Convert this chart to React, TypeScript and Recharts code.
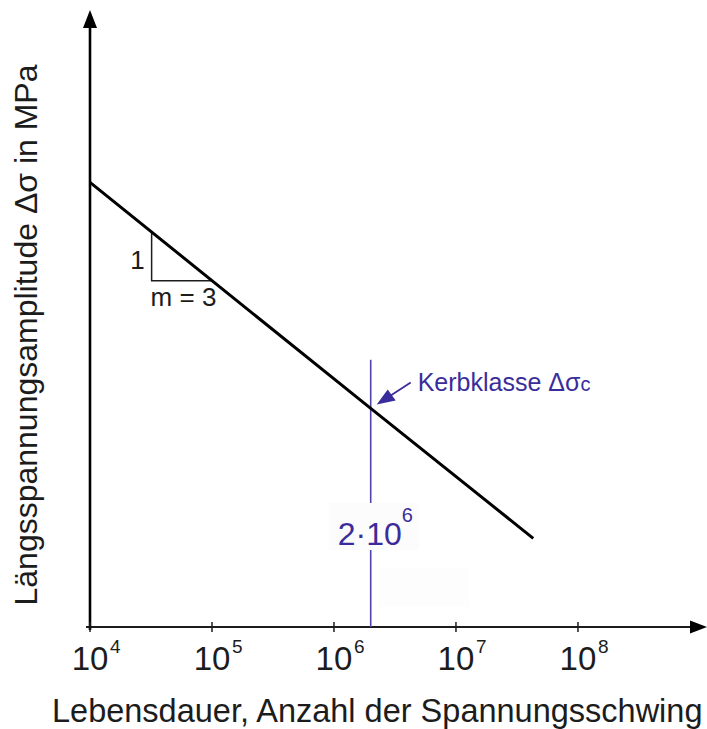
import React from 'react';
import { ComposedChart, Line, XAxis, YAxis, ReferenceLine, ReferenceDot } from 'recharts';

// S-N line for detail category 80 MPa, slope m = 3
const cycles = [1e4, 2e6, 4.3e7];
const stressRange = [468, 80, 29];

// slope triangle (1 : m) drawn under the line
const slopeCycles = [3.2e4, 3.2e4, 1e5];
const slopeStress = [317, 217, 217];

const decadeTicks = [1e4, 1e5, 1e6, 1e7, 1e8];
const decadeExponents = ['4', '5', '6', '7', '8'];

const kerbCycles = 2e6;
const kerbStress = 80;
const kerbLineTop = 117;

const xDomain = [1e4, 1.1e9];
const yDomain = [14.5, 1800];

const BLUE = '#3a2d9b';
const INK = '#1c1c1c';

const lineData = cycles.map((n, i) => ({ n, s: stressRange[i] }));
const slopeData = slopeCycles.map((n, i) => ({ n, s: slopeStress[i] }));

const DecadeTick = (props: any) => {
  const { x, y, index } = props;
  return (
    <g>
      <line x1={x} y1={y - 5} x2={x} y2={y + 5} stroke={INK} strokeWidth={1.5} />
      <text x={x} y={y + 43} textAnchor="middle" fontSize={33} fill={INK}>10</text>
      <text x={x + 20} y={y + 26} fontSize={19} fill={INK}>{decadeExponents[index]}</text>
    </g>
  );
};

const XArrow = (props: any) => {
  const { x1, y1, x2 } = props;
  return (
    <g>
      <line x1={x1 - 4} y1={y1} x2={x2 - 12} y2={y1} stroke={INK} strokeWidth={1.8} />
      <polygon points={`${x2 + 2},${y1} ${x2 - 15},${y1 - 6.5} ${x2 - 15},${y1 + 6.5}`} fill="#000" />
    </g>
  );
};

const YArrow = (props: any) => {
  const { x1, y1, y2 } = props;
  return (
    <g>
      <line x1={x1} y1={y1 + 3} x2={x1} y2={y2 + 14} stroke="#000" strokeWidth={2.6} />
      <polygon points={`${x1},${y2} ${x1 - 7},${y2 + 18} ${x1 + 7},${y2 + 18}`} fill="#000" />
    </g>
  );
};

const KerbLine = (props: any) => {
  const { x1, y1, y2 } = props;
  return (
    <g>
      <line x1={x1} y1={y1} x2={x1} y2={y2} stroke="#5044a8" strokeWidth={1.6} />
      <rect x={x1 - 42} y={y1 - 124} width={90} height={47} fill="#fcfcfc" />
      <rect x={x1 + 8} y={y1 - 59} width={90} height={39} fill="#fdfdfd" />
      <text x={x1 - 33} y={y1 - 82} fontSize={32} fill={BLUE}>2·10</text>
      <text x={x1 + 31} y={y1 - 105} fontSize={20} fill={BLUE}>6</text>
    </g>
  );
};

const KerbNote = (props: any) => {
  const { cx, cy } = props;
  return (
    <g>
      <line x1={cx + 40} y1={cy - 26} x2={cx + 20} y2={cy - 13} stroke={BLUE} strokeWidth={1.8} />
      <polygon
        points={`${cx + 6},${cy - 4} ${cx + 17},${cy - 19} ${cx + 25},${cy - 8}`}
        fill={BLUE}
      />
      <text x={cx + 47} y={cy - 17} fontSize={25} fill={BLUE}>
        Kerbklasse Δσ<tspan fontSize={20}>c</tspan>
      </text>
    </g>
  );
};

const SlopeLabels = (props: any) => {
  const { cx, cy } = props;
  return (
    <g fill={INK}>
      <text x={cx - 7} y={cy - 12} textAnchor="end" fontSize={26}>1</text>
      <text x={cx - 1} y={cy + 25} fontSize={26}>m = 3</text>
    </g>
  );
};

export default function App() {
  return (
    <div
      style={{
        position: 'absolute',
        left: 0,
        top: 0,
        width: 707,
        height: 729,
        background: '#fff',
        fontFamily: '"Liberation Sans", Arial, sans-serif',
      }}
    >
      <ComposedChart width={707} height={729} margin={{ top: 10, right: 2, bottom: 0, left: 0 }}>
        <XAxis
          dataKey="n"
          type="number"
          scale="log"
          domain={xDomain}
          ticks={decadeTicks}
          interval={0}
          allowDataOverflow
          axisLine={false}
          tickLine={false}
          tickSize={0}
          tickMargin={0}
          height={102}
          tick={<DecadeTick />}
          label={{
            content: (p: any) => (
              <text x={p.viewBox.x - 38} y={p.viewBox.y + 95} fontSize={32.5} fill={INK}>
                Lebensdauer, Anzahl der Spannungsschwing
              </text>
            ),
          }}
        />
        <YAxis
          dataKey="s"
          type="number"
          scale="log"
          domain={yDomain}
          allowDataOverflow
          width={90}
          axisLine={false}
          tickLine={false}
          tick={false}
          label={{
            content: (p: any) => {
              const cx = 37;
              const cy = p.viewBox.y + 325;
              return (
                <text
                  x={cx}
                  y={cy}
                  textAnchor="middle"
                  fontSize={32}
                  fill={INK}
                  transform={`rotate(-90, ${cx}, ${cy})`}
                >
                  Längsspannungsamplitude Δσ in MPa
                </text>
              );
            },
          }}
        />
        <ReferenceLine
          segment={[{ x: xDomain[0], y: yDomain[0] }, { x: xDomain[1], y: yDomain[0] }]}
          shape={<XArrow />}
        />
        <ReferenceLine
          segment={[{ x: xDomain[0], y: yDomain[0] }, { x: xDomain[0], y: yDomain[1] }]}
          shape={<YArrow />}
        />
        <ReferenceLine
          segment={[{ x: kerbCycles, y: yDomain[0] }, { x: kerbCycles, y: kerbLineTop }]}
          shape={<KerbLine />}
        />
        <Line
          data={slopeData}
          dataKey="s"
          type="linear"
          stroke={INK}
          strokeWidth={1.5}
          dot={false}
          isAnimationActive={false}
        />
        <Line
          data={lineData}
          dataKey="s"
          type="linear"
          stroke="#000"
          strokeWidth={3}
          dot={false}
          isAnimationActive={false}
        />
        <ReferenceDot x={slopeCycles[1]} y={slopeStress[1]} shape={<SlopeLabels />} />
        <ReferenceDot x={kerbCycles} y={kerbStress} shape={<KerbNote />} />
      </ComposedChart>
    </div>
  );
}
